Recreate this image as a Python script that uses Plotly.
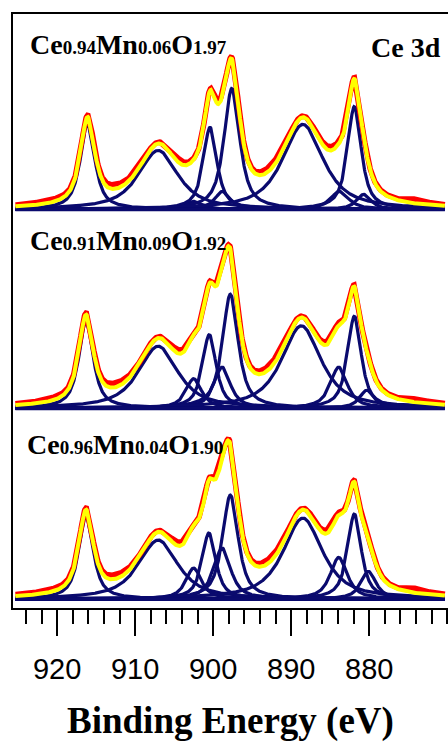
import numpy as np
import plotly.graph_objects as go

# ---------------- data ----------------
# binding-energy sampling of the spectra (eV)
energy = np.round(np.arange(870.3, 925.35, 0.05), 2)

SUB = "<span style='font-size:19px'>{}</span>"
# sample names (text labels)
samples = ["Ce" + SUB.format("0.94") + "Mn" + SUB.format("0.06") + "O" + SUB.format("1.97"),
           "Ce" + SUB.format("0.91") + "Mn" + SUB.format("0.09") + "O" + SUB.format("1.92"),
           "Ce" + SUB.format("0.96") + "Mn" + SUB.format("0.04") + "O" + SUB.format("1.90")]

# vertical offsets of the stacked spectra (a.u.)
offsets = [399.0, 200.0, 9.0]

# fitted Ce 3d components: centre (eV), height (a.u.), FWHM (eV)
centers_1 = [916.1, 907.05, 902.5, 900.4, 898.8, 897.6, 888.5, 883.8, 881.9, 880.7]
heights_1 = [86, 59, 8, 82, 18, 121, 85, 18, 103, 15]
fwhm_1 = [2.2, 6.0, 2.5, 2.1, 2.3, 2.4, 6.2, 2.8, 2.1, 2.2]

centers_2 = [916.3, 907.05, 902.5, 900.5, 898.85, 897.8, 888.7, 883.9, 881.9, 880.3]
heights_2 = [87, 62, 29.5, 73.5, 41, 114, 82.5, 41, 92, 18]
fwhm_2 = [2.2, 6.0, 2.4, 2.1, 2.5, 2.4, 6.0, 2.6, 2.1, 2.2]

centers_3 = [916.3, 907.05, 902.5, 900.55, 898.85, 897.8, 888.5, 883.9, 881.9, 880.1]
heights_3 = [83, 59, 31, 66, 51, 104, 81, 41.6, 85, 27.6]
fwhm_3 = [2.2, 6.0, 2.4, 2.1, 2.6, 2.4, 6.0, 2.6, 2.1, 2.3]

# Lorentzian fraction of the pseudo-Voigt line shape
lorentz_frac = 0.8

# measured-minus-fit residual features: centre (eV), amplitude (a.u.), width (eV)
res_c_1 = [920.5, 912.5, 904.5, 899.3, 892.5, 885.0, 873.8]
res_a_1 = [1.5, 3.0, 2.5, 2.5, 3.0, 2.5, 3.5]
res_w_1 = [2.0, 1.5, 1.0, 0.5, 1.5, 1.0, 1.0]

res_c_2 = [920.5, 912.5, 904.5, 899.3, 892.5, 885.0, 873.8]
res_a_2 = [1.5, 3.0, 2.5, 2.5, 3.0, 2.5, 2.5]
res_w_2 = [2.0, 1.5, 1.0, 0.5, 1.5, 1.0, 1.0]

res_c_3 = [920.5, 912.5, 904.5, 899.3, 892.5, 885.0, 873.8]
res_a_3 = [1.5, 3.0, 2.5, 2.5, 3.0, 2.5, 3.5]
res_w_3 = [2.0, 1.5, 1.0, 0.5, 1.5, 1.0, 1.0]

# mean vertical lift of the measured curve above the fit (a.u.)
data_lift = 1.2

# axis ticks
major_ticks = [920, 910, 900, 890, 880]
tick_labels = ["920", "910", "900", "890", "880"]

# ---------------- model line shapes ----------------
def pseudo_voigt(x, c, h, w, eta):
    hw = w / 2.0
    lor = 1.0 / (1.0 + ((x - c) / hw) ** 2)
    gau = np.exp(-np.log(2) * ((x - c) / hw) ** 2)
    return h * (eta * lor + (1 - eta) * gau)

def gauss(x, c, a, s):
    return a * np.exp(-0.5 * ((x - c) / s) ** 2)

panels = [
    (centers_1, heights_1, fwhm_1, res_c_1, res_a_1, res_w_1),
    (centers_2, heights_2, fwhm_2, res_c_2, res_a_2, res_w_2),
    (centers_3, heights_3, fwhm_3, res_c_3, res_a_3, res_w_3),
]

NAVY = "#0a0a6e"
fig = go.Figure()

for (cs, hs, ws, rc, ra, rw), off in zip(panels, offsets):
    comps = [pseudo_voigt(energy, c, h, w, lorentz_frac) for c, h, w in zip(cs, hs, ws)]
    envelope = np.sum(comps, axis=0)
    measured = envelope + data_lift + np.sum([gauss(energy, c, a, s) for c, a, s in zip(rc, ra, rw)], axis=0)
    # background line
    fig.add_trace(go.Scatter(x=energy, y=np.zeros_like(energy) + off, mode="lines",
                             line=dict(color=NAVY, width=4), hoverinfo="skip", showlegend=False))
    for comp in comps:
        fig.add_trace(go.Scatter(x=energy, y=comp + off, mode="lines",
                                 line=dict(color=NAVY, width=3.2), hoverinfo="skip", showlegend=False))
    fig.add_trace(go.Scatter(x=energy, y=measured + off, mode="lines",
                             line=dict(color="#ff0000", width=5.5), hoverinfo="skip", showlegend=False))
    fig.add_trace(go.Scatter(x=energy, y=envelope + off, mode="lines",
                             line=dict(color="#ffff00", width=4), hoverinfo="skip", showlegend=False))

SERIF = "Liberation Serif"
label_y = [564, 368, 164]
label_x = [0.0345, 0.0345, 0.028]
for txt, yy, xx in zip(samples, label_y, label_x):
    fig.add_annotation(text="<b>" + txt + "</b>", xref="paper", yref="y", x=xx, y=yy,
                       xanchor="left", yanchor="middle", showarrow=False,
                       font=dict(family=SERIF, size=28, color="black"))

fig.add_annotation(text="<b>Ce 3d</b>", xref="paper", yref="y", x=0.988, y=561,
                   xanchor="right", yanchor="middle", showarrow=False,
                   font=dict(family=SERIF, size=28, color="black"))

fig.add_annotation(text="<b>Binding Energy (eV)</b>", xref="paper", yref="paper",
                   x=(230.5 - 13) / 435, y=(608.5 - 722) / 594.5,
                   xanchor="center", yanchor="middle", showarrow=False,
                   font=dict(family=SERIF, size=37, color="black"))

fig.update_xaxes(range=[925.66, 869.9], tickmode="array", tickvals=major_ticks, ticktext=tick_labels,
                 ticks="outside", ticklen=26, tickwidth=2, tickcolor="black", ticklabelstandoff=8,
                 minor=dict(dtick=2, tick0=920, ticks="outside", ticklen=14, tickwidth=2, tickcolor="black"),
                 showline=True, linewidth=2, linecolor="black", mirror=True,
                 showgrid=False, zeroline=False,
                 tickfont=dict(family="Liberation Sans", size=29, color="black"))
fig.update_yaxes(range=[0, 594.5], showticklabels=False, ticks="", showgrid=False, zeroline=False,
                 showline=True, linewidth=2, linecolor="black", mirror=False)

fig.update_layout(width=448, height=742, margin=dict(l=13, r=0, t=14, b=134),
                  plot_bgcolor="white", paper_bgcolor="white", showlegend=False)

fig.write_html("out.html")
